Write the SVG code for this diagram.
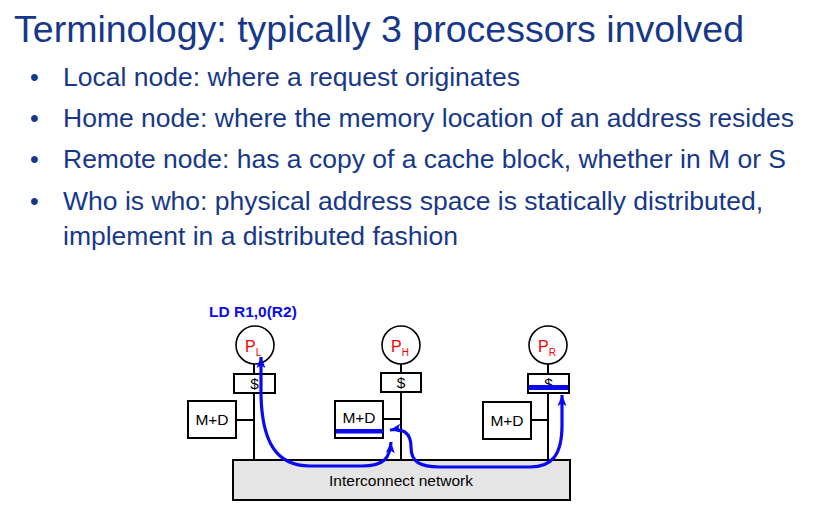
<svg xmlns="http://www.w3.org/2000/svg" width="826" height="531" viewBox="0 0 826 531">
<style>
.title{font-family:"Liberation Sans",Arial,sans-serif;font-size:37px;fill:#17388A}
.bl{font-family:"Liberation Sans",Arial,sans-serif;font-size:25px;fill:#17388A}
.lbl{font-family:"Liberation Sans",Arial,sans-serif;font-size:15.5px;fill:#000;text-anchor:middle}
.p{font-family:"Liberation Sans",Arial,sans-serif;font-size:16px;fill:#FF0000}
.sub{font-size:10px}
.ld{font-family:"Liberation Sans",Arial,sans-serif;font-size:15.5px;font-weight:bold;fill:#0A0AF0}
.box{fill:#fff;stroke:#000;stroke-width:2}
.circ{fill:#fff;stroke:#000;stroke-width:1.6}
.wire{stroke:#000;stroke-width:2;fill:none}
.bar{fill:#0A0AF0}
.msg{fill:none;stroke:#0A0AF0;stroke-width:3.2;marker-start:url(#ah);marker-end:url(#ah)}
</style>
<defs>
<marker id="ah" markerUnits="userSpaceOnUse" markerWidth="12" markerHeight="12" viewBox="0 0 12 12" refX="11" refY="6" orient="auto-start-reverse">
<path d="M0,1.5 L11,6 L0,10.5 L2.5,6 Z" fill="#0A0AF0"/>
</marker>
</defs>
<rect width="826" height="531" fill="#fff"/>
<text class="title" x="14" y="42" textLength="730" lengthAdjust="spacingAndGlyphs">Terminology: typically 3 processors involved</text>
<g id="bullets">
<text class="bl" x="30" y="86">•</text>
<text class="bl" x="63" y="86" textLength="457" lengthAdjust="spacingAndGlyphs">Local node: where a request originates</text>
<text class="bl" x="30" y="127">•</text>
<text class="bl" x="63" y="127" textLength="731" lengthAdjust="spacingAndGlyphs">Home node: where the memory location of an address resides</text>
<text class="bl" x="30" y="168">•</text>
<text class="bl" x="63" y="168" textLength="723" lengthAdjust="spacingAndGlyphs">Remote node: has a copy of a cache block, whether in M or S</text>
<text class="bl" x="30" y="210">•</text>
<text class="bl" x="63" y="210" textLength="700" lengthAdjust="spacingAndGlyphs">Who is who: physical address space is statically distributed,</text>
<text class="bl" x="63" y="245" textLength="395" lengthAdjust="spacingAndGlyphs">implement in a distributed fashion</text>
</g>
<text class="ld" x="209" y="317">LD R1,0(R2)</text>
<g id="network">
<rect x="233" y="460" width="337" height="40" fill="#E5E5E5" stroke="#000" stroke-width="2"/>
<text class="lbl" x="401" y="486">Interconnect network</text>
</g>
<g id="local">
<line class="wire" x1="254" y1="364" x2="254" y2="460"/>
<line class="wire" x1="236" y1="420" x2="254" y2="420"/>
<circle class="circ" cx="255" cy="345" r="19"/>
<text class="p" x="245" y="352">P<tspan class="sub" dy="4">L</tspan></text>
<rect class="box" x="234" y="374" width="41" height="19"/>
<text class="lbl" x="254.5" y="389">$</text>
<rect class="box" x="188" y="401" width="48" height="37"/>
<text class="lbl" x="212" y="425">M+D</text>
</g>
<g id="home">
<line class="wire" x1="401" y1="364" x2="401" y2="460"/>
<line class="wire" x1="383" y1="419" x2="401" y2="419"/>
<circle class="circ" cx="401" cy="345" r="19"/>
<text class="p" x="391" y="352">P<tspan class="sub" dy="4">H</tspan></text>
<rect class="box" x="381" y="373" width="40" height="19"/>
<text class="lbl" x="401" y="388">$</text>
<rect class="box" x="335" y="401" width="48" height="37"/>
<text class="lbl" x="359" y="423">M+D</text>
<rect class="bar" x="336" y="429" width="47" height="4.5"/>
</g>
<g id="remote">
<line class="wire" x1="548" y1="364" x2="548" y2="460"/>
<line class="wire" x1="531" y1="420" x2="548" y2="420"/>
<circle class="circ" cx="548" cy="345" r="19"/>
<text class="p" x="538" y="352">P<tspan class="sub" dy="4">R</tspan></text>
<rect class="box" x="528" y="374" width="41" height="19"/>
<text class="lbl" x="548.5" y="389">$</text>
<rect class="bar" x="529" y="385" width="39" height="5"/>
<rect class="box" x="483" y="402" width="48" height="37"/>
<text class="lbl" x="507" y="426">M+D</text>
</g>
<g id="connectors">
<path class="msg" d="M261,357 L261,395 C262,440 275,466 310,466 L362,466 C384,466 390,458 391,442"/>
<path class="msg" d="M390,430 C402,428 411,432 411,447 C411,462 420,467 440,467 L530,467 C552,467 562,455 562,425 L562,395"/>
</g>
</svg>
